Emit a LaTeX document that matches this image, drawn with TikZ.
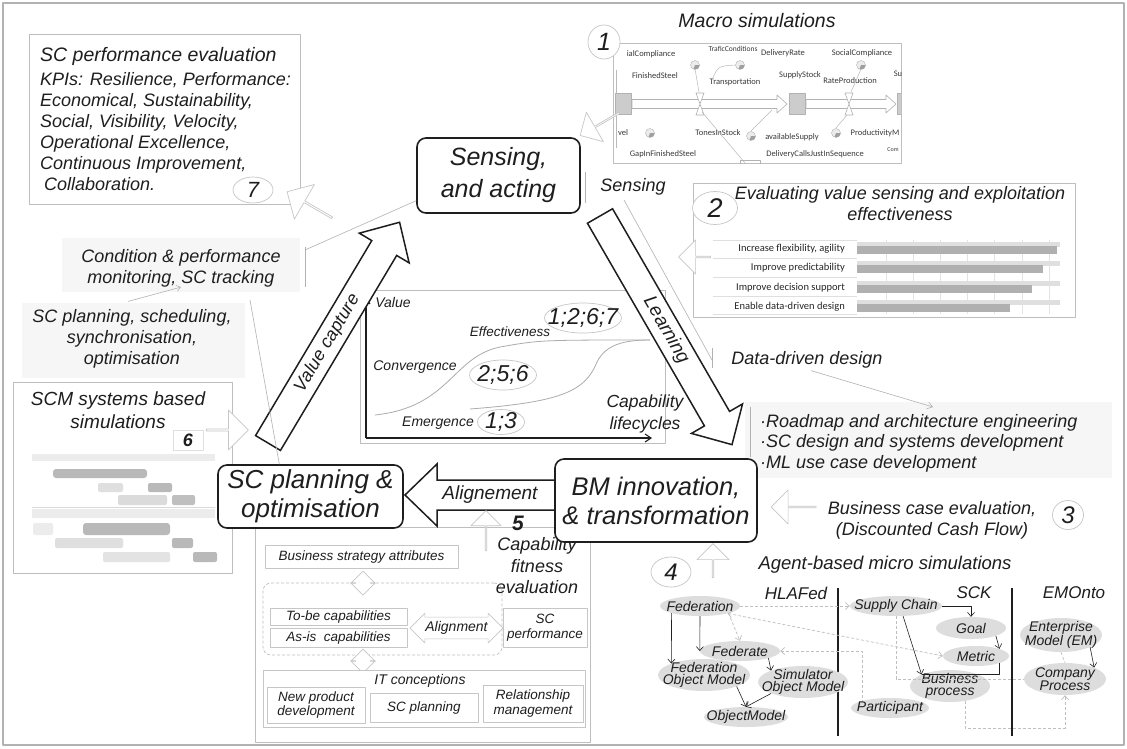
\documentclass[tikz,border=0pt]{standalone}
\usepackage{fontspec}
\setmainfont{Liberation Sans}
\newfontfamily\chartfont{Carlito}
\usetikzlibrary{shapes.geometric,shapes.arrows,arrows.meta,calc}
\definecolor{ink}{HTML}{1E1E1E}
\definecolor{lite}{HTML}{BEBEBE}
\definecolor{haze}{HTML}{F6F6F6}
\begin{document}
\begin{tikzpicture}[x=1pt,y=-1pt,line join=round,
  tx/.style 2 args={text=ink, inner sep=0pt, align=center, font=\itshape\fontsize{#1}{#2}\selectfont},
  hub/.style={draw=ink, line width=1.6pt, rounded corners=9pt, fill=white},
  flow/.style={draw=ink, line width=1.5pt, fill=white, line join=miter},
  panel/.style={draw=lite, line width=0.8pt, inner sep=0pt},
  cell/.style={draw=gray!45, line width=0.6pt, fill=white, inner sep=0pt, text=ink, align=center,
    font=\itshape\fontsize{13.5}{14.5}\selectfont},
  tag/.style={ellipse, draw=gray!45, line width=0.7pt, fill=white, inner xsep=-14pt, inner ysep=-6pt, text=ink},
  ghost/.style={single arrow, draw=gray!45, line width=0.7pt, fill=white, inner sep=0pt, single arrow head extend=7pt},
  ghost2/.style={double arrow, draw=gray!45, line width=0.7pt, fill=white, inner xsep=0pt, inner ysep=7pt, double arrow head extend=5pt},
  wire/.style={draw=gray!60, line width=0.6pt},
  axis/.style={draw=ink, line width=1.1pt, -{Straight Barb[length=6pt,width=8pt]}},
  curve/.style={draw=gray!65, line width=0.8pt},
  simt/.style={text=gray!45!black, inner sep=0pt, font=\chartfont\fontsize{8.5}{9}\selectfont},
  bart/.style={text=gray!30!black, inner sep=0pt, anchor=east, font=\chartfont\fontsize{10.5}{11}\selectfont},
  pipe/.style={draw=gray!60, line width=0.6pt, fill=white},
  ont/.style={ellipse, fill=gray!27, inner xsep=-30pt, inner ysep=-14pt, text=ink, align=center,
    font=\itshape\fontsize{14}{12.5}\selectfont},
  oline/.style={draw=gray!25!black, line width=0.6pt},
  oarr/.style={oline, -{Straight Barb[length=4pt,width=7pt]}},
  odash/.style={draw=gray!50, line width=0.7pt, densely dashed}
]
\useasboundingbox (0,0) rectangle (1127,748);
\fill[white] (0,0) rectangle (1127,748);
\draw[gray!60, line width=1.5pt] (3,3) rectangle (1124,745);

% soft backgrounds behind the free-standing texts
\fill[haze] (62,238) rectangle (300,292);
\fill[haze] (22,303) rectangle (245,378);
\fill[haze] (745,402) rectangle (1112,478);

% ---------- module 7: performance evaluation ----------
\node[panel, minimum width=271, minimum height=170] (kpibox) at (164.5,119) {};
\node[tx={19.5}{22}, anchor=west] (kpititle) at (40,56) {SC performance evaluation};
\node[tx={18}{21}, align=left, anchor=north west] (kpis) at (40,72)
  {KPIs: Resilience, Performance:\\Economical, Sustainability,\\Social, Visibility, Velocity,\\Operational Excellence,\\Continuous Improvement,\\\hspace{4pt}Collaboration.};
\node[tag, minimum width=40, minimum height=26, font=\itshape\fontsize{22}{22}\selectfont] (n7) at (253,190) {7};
\node[ghost, minimum height=52, minimum width=40, rotate=150] (g7) at (310,205) {};

% ---------- free texts on the left ----------
\node[tx={18}{21}] (cond) at (181,268) {Condition \& performance\\monitoring, SC tracking};
\node[tx={18}{21}] (plan) at (132,339) {SC planning, scheduling,\\synchronisation,\\optimisation};
\coordinate (cb) at (305,250);
\coordinate (pb) at (250,300);
\draw[wire] (305,247) -- (305,287);
\draw[wire, -{Straight Barb[length=4pt,width=6pt]}] (plan.north) ++(-4,-8) -- (cond.south);

% ---------- module 6: SCM based simulations ----------
\node[panel, minimum width=219, minimum height=191] (scmbox) at (122.5,477.5) {};
\node[tx={19}{23.5}] (scmt) at (118,410) {SCM systems based\\simulations};
\node[draw=gray!25, fill=white, minimum width=30, minimum height=20, inner sep=0pt, text=ink,
  font=\bfseries\itshape\fontsize{18}{18}\selectfont] (n6) at (188,440) {6};
\node[ghost, minimum height=42, minimum width=40] (g6) at (227,430) {};
% gantt chart
\fill[gray!15] (32,454) rectangle (215,461);
\fill[gray!55, rounded corners=3pt] (53,469) rectangle (147,478);
\fill[gray!25, rounded corners=2pt] (98,483) rectangle (123,492);
\fill[gray!55, rounded corners=2pt] (148,483) rectangle (172,492);
\fill[gray!28, rounded corners=2pt] (118,495) rectangle (167,505);
\fill[gray!50, rounded corners=2pt] (172,495) rectangle (195,505);
\draw[gray!30] (32,507) -- (215,507);
\fill[gray!15] (32,509) rectangle (215,518);
\fill[gray!15, rounded corners=2pt] (33,523) rectangle (53,535);
\fill[gray!55, rounded corners=3pt] (83,523) rectangle (170,535);
\fill[gray!25, rounded corners=2pt] (55,538) rectangle (123,548);
\fill[gray!55, rounded corners=2pt] (172,538) rectangle (193,548);
\fill[gray!22, rounded corners=2pt] (103,552) rectangle (170,562);
\fill[gray!55, rounded corners=2pt] (193,552) rectangle (217,562);

% ---------- module 1: macro simulations ----------
\node[tx={19.5}{20}] (macrot) at (757,21) {Macro simulations};
\node[panel, minimum width=288, minimum height=120] (macrobox) at (757,103) {};
\begin{scope}
  \clip (613,43) rectangle (901,163);
  \node[simt] (s1) at (651,54) {ialCompliance};
  \node[simt, font=\chartfont\fontsize{7.5}{8}\selectfont] (s2) at (733,49) {TraficConditions};
  \node[simt] (s3) at (783,53) {DeliveryRate};
  \node[simt] (s4) at (862,53) {SocialCompliance};
  \node[simt] (s5) at (655,76) {FinishedSteel};
  \node[simt] (s6) at (735,82) {Transportation};
  \node[simt] (s7) at (800,75) {SupplyStock};
  \node[simt] (s8) at (850,81) {RateProduction};
  \node[simt] (s9) at (898,74) {Su};
  \node[simt] (s10) at (623,133) {vel};
  \node[simt] (s11) at (718,133) {TonesInStock};
  \node[simt] (s12) at (792,137) {availableSupply};
  \node[simt] (s13) at (875,133) {ProductivityM};
  \node[simt] (s14) at (663,154) {GapInFinishedSteel};
  \node[simt] (s15) at (815,154) {DeliveryCallsJustInSequence};
  \node[simt, font=\chartfont\fontsize{6}{6}\selectfont] (s16) at (893,150) {Com};
  % stocks
  \node[draw=gray!60, fill=gray!40, minimum width=16, minimum height=21, inner sep=0pt] (st1) at (623,104) {};
  \node[draw=gray!60, fill=gray!40, minimum width=16, minimum height=21, inner sep=0pt] (st2) at (797,104) {};
  \node[draw=gray!60, fill=gray!40, minimum width=10, minimum height=21, inner sep=0pt] (st3) at (902,104) {};
  % flows
  \draw[pipe] (632,99.5) -- (777,99.5) -- (777,95) -- (787,104) -- (777,113) -- (777,108.5) -- (632,108.5) -- cycle;
  \draw[pipe] (806,99.5) -- (886,99.5) -- (886,95) -- (896,104) -- (886,113) -- (886,108.5) -- (806,108.5) -- cycle;
  \draw[pipe] (696,93) -- (704,93) -- (696,115) -- (704,115) -- cycle;
  \draw[pipe] (845,93) -- (853,93) -- (845,115) -- (853,115) -- cycle;
  % links
  \draw[gray!55, line width=0.5pt] (695,69) -- (699,92);
  \draw[gray!55, line width=0.5pt] (736,65) .. controls (718,66) .. (712,80);
  \draw[gray!55, line width=0.5pt] (861,69) -- (851,92);
  \draw[gray!55, line width=0.5pt] (751,131) -- (772,110);
  \draw[gray!55, line width=0.5pt] (836,128) -- (847,115);
  \draw[gray!55, line width=0.5pt] (702,112) -- (745,163);
  \draw[gray!55, line width=0.5pt] (616,70) -- (616,93);
  \draw[gray!55, line width=0.5pt] (616,116) -- (616,148);
  % converters
  \foreach \cx/\cy in {695/65, 740/65, 861/65, 650/133, 751/136, 836/133}{
    \filldraw[fill=gray!15, draw=gray!60, line width=0.4pt] (\cx,\cy) circle (4.5);
    \fill[gray!75] (\cx,\cy) -- ++(4.5,0) arc[start angle=0, end angle=110, radius=4.5] -- cycle;
  }
  \draw[gray!60] (740,160) rectangle (760,165);
\end{scope}
\node[tag, minimum width=32, minimum height=34, font=\itshape\fontsize{25}{25}\selectfont] (n1) at (604,42) {1};
\node[ghost, minimum height=45, minimum width=34, rotate=210] (g1) at (600,124) {};

% ---------- module 2: evaluation chart ----------
\node[panel, minimum width=382, minimum height=134] (evalbox) at (884,250) {};
\node[tx={18}{21}] (evalt) at (900,204) {Evaluating value sensing and exploitation\\effectiveness};
\node[tag, minimum width=45, minimum height=33, font=\itshape\fontsize{27}{27}\selectfont] (n2) at (715,208) {2};
\node[ghost, minimum height=32, minimum width=34, rotate=180] (g2) at (695,257) {};
\foreach \yy in {240,258,277,296,314} \draw[gray!25] (713,\yy) -- (857,\yy);
\foreach \xx in {886,913,940,967,994,1022,1049} \draw[gray!22] (\xx,240) -- (\xx,314);
\foreach \yy/\ee in {249/1057, 268/1043, 288/1032, 307/1010}{
  \fill[gray!25] (857,\yy-7) rectangle (1060,\yy-2);
  \fill[gray!62] (857,\yy-3) rectangle (\ee,\yy+5);
}
\node[bart] (b1) at (845,249) {Increase flexibility, agility};
\node[bart] (b2) at (845,268) {Improve predictability};
\node[bart] (b3) at (845,288) {Improve decision support};
\node[bart] (b4) at (845,307) {Enable data-driven design};

% ---------- value lifecycle chart ----------
\node[panel, minimum width=305, minimum height=153] (valbox) at (512.5,366.5) {};
\coordinate (orig) at (366,438);
\coordinate (vtop) at (366,297);
\coordinate (hend) at (652,438);
\draw[axis] (orig) -- (vtop);
\draw[axis] (orig) -- (hend);
\draw[curve] (375,415) .. controls (450,407) and (452,357) .. (500,347) .. controls (540,340) .. (650,340);
\draw[curve] (470,409) .. controls (560,402) and (585,392) .. (597,362) .. controls (606,344) and (625,340) .. (650,340);
\node[tx={14}{14}] (lval) at (393,302) {Value};
\node[tx={13.5}{14}] (leff) at (510,332) {Effectiveness};
\node[tx={14}{14}] (lconv) at (415,367) {Convergence};
\node[tx={14}{14}] (lemer) at (438,423) {Emergence};
\node[tx={17.5}{22}] (lcap) at (645,414) {Capability\\lifecycles};
\node[tag, minimum width=77, minimum height=30, inner xsep=-30pt, font=\itshape\fontsize{23}{23}\selectfont] (v1) at (583,318) {1;2;6;7};
\node[tag, minimum width=67, minimum height=30, inner xsep=-22pt, font=\itshape\fontsize{23}{23}\selectfont] (v2) at (503,375) {2;5;6};
\node[tag, minimum width=47, minimum height=25, inner xsep=-12pt, font=\itshape\fontsize{23}{23}\selectfont] (v3) at (501,422) {1;3};

% ---------- right side texts ----------
\node[tx={18}{20}] (senselbl) at (633,187) {Sensing};
\node[tx={18}{20}] (dd) at (807,360) {Data-driven design};
\coordinate (sb) at (624,200);
\coordinate (ddb) at (712,360);
\coordinate (ddend) at (933,407);
\draw[wire] (585,172) -- (585,203);
\draw[wire] (sb) -- (ddb);
\draw[wire] (712,348) -- (712,368);
\draw[wire, -{Straight Barb[length=5pt,width=7pt]}] (dd.south) ++(4,2) -- (ddend);
\draw[wire] (750,407) -- (750,457);
\node[tx={18}{20.5}, align=left, anchor=west] (bullets) at (760,443)
  {·Roadmap and architecture engineering\\·SC design and systems development\\·ML use case development};
\node[tx={18}{21}] (bce) at (932,520) {Business case evaluation,\\(Discounted Cash Flow)};
\node[tag, minimum width=31, minimum height=29, font=\itshape\fontsize{24}{24}\selectfont] (n3) at (1068,515) {3};
\node[ghost, minimum height=45, minimum width=34, rotate=180] (g3) at (794,507) {};

% ---------- module 4: agent-based micro simulations ----------
\node[tx={18.5}{20}] (abm) at (885,565) {Agent-based micro simulations};
\node[tag, minimum width=40, minimum height=30, font=\itshape\fontsize{24}{24}\selectfont] (n4) at (671,572) {4};
\node[ghost, minimum height=34, minimum width=32, rotate=90] (g4) at (713,561) {};
\node[tx={17}{18}] (hla) at (796,593) {HLAFed};
\node[tx={17}{18}] (sck) at (974,593) {SCK};
\node[tx={17}{18}] (emo) at (1074,593) {EMOnto};
\coordinate (d1t) at (838,588);
\coordinate (d1b) at (838,736);
\coordinate (d2t) at (1012,588);
\coordinate (d2b) at (1012,736);
\draw[ink, line width=1.3pt] (d1t) -- (d1b);
\draw[ink, line width=1.3pt] (d2t) -- (d2b);

\node[ont, minimum width=80, minimum height=20] (fed) at (700,606) {Federation};
\node[ont, minimum width=92, minimum height=20] (sch) at (896,606) {Supply Chain};
\node[ont, minimum width=70, minimum height=22] (goal) at (971,628) {Goal};
\node[ont, minimum width=80, minimum height=20] (fedt) at (740,651) {Federate};
\node[ont, minimum width=66, minimum height=20] (metric) at (976,656) {Metric};
\node[ont, minimum width=82, minimum height=34] (em) at (1061,635) {Enterprise\\Model (EM)};
\node[ont, minimum width=92, minimum height=32] (fom) at (704,675) {Federation\\Object Model};
\node[ont, minimum width=90, minimum height=32] (som) at (803,682) {Simulator\\Object Model};
\node[ont, minimum width=80, minimum height=32] (bp) at (950,686) {Business\\process};
\node[ont, minimum width=82, minimum height=32] (cp) at (1065,679) {Company\\Process};
\node[ont, minimum width=84, minimum height=20] (om) at (746,717) {ObjectModel};
\node[ont, minimum width=78, minimum height=20] (part) at (890,708) {Participant};

\draw[oarr] (fed.south) -- (fedt.west);
\draw[oarr] (fed.south west) -- (fom.north west);
\draw[odash, -{Straight Barb[length=4pt,width=7pt]}] (fed.south east) -- (fedt.north);
\draw[oarr] (fedt.south east) -- (som.north west);
\draw[oarr] (fom.south east) -- (om.north);
\draw[oarr] (som.south west) -- (om.north);
\draw[odash, -{Straight Barb[length=4pt,width=7pt]}] (fed.east) -- (sch.west);
\draw[odash, {Straight Barb[length=4pt,width=7pt]}-{Straight Barb[length=4pt,width=7pt]}] (fed.-15) -- (metric.west);
\draw[odash, {Straight Barb[length=4pt,width=7pt]}-] (fedt.east) -| (part.north west);
\draw[oarr] (sch.east) -| (goal.north);
\draw[oarr] (goal.south east) -- (metric.north east);
\draw[oarr] (sch.-55) -- (bp.north west);
\draw[oline] (metric.south east) |- (bp.north west);
\draw[odash] (sch.south) |- (cp.west);
\draw[odash, -{Straight Barb[length=4pt,width=7pt]}] (bp.-45) -- ($(bp.-45)+(0,27)$) -| (cp.south);
\draw[oarr] (em.south east) -- (cp.north east);
\draw[odash] (em.south) -- (cp.north);

% ---------- sensing hub and its connector ----------
\node[hub, tx={25}{32}, minimum width=163, minimum height=75] (sense) at (498.5,175.5) {Sensing,\\and acting};
\draw[wire] (cb) -- (sense.197);

% ---------- big flow arrows ----------
\begin{scope}[shift={(268,443)}, rotate=59.2]
  \draw[flow] (0,-14.5) -- (227,-14.5) -- (227,-29) -- (257,0) -- (227,29) -- (227,14.5) -- (0,14.5) -- cycle;
  \node[tx={18}{20}, rotate=59.2] (vcap) at (116,0) {Value capture};
\end{scope}
\begin{scope}[shift={(600,216)}, rotate=-60]
  \draw[flow] (0,-14.5) -- (234,-14.5) -- (234,-29.5) -- (264,0) -- (234,29.5) -- (234,14.5) -- (0,14.5) -- cycle;
  \node[tx={19}{20}, rotate=-60] (learn) at (132,0) {Learning};
\end{scope}

% ---------- module 5: capability fitness evaluation ----------
\node[panel, minimum width=335, minimum height=215] (fitbox) at (422.5,634.5) {};
\begin{scope}[shift={(590,495)}, rotate=180]
  \draw[flow] (0,-15) -- (153,-15) -- (153,-31) -- (185,0) -- (153,31) -- (153,15) -- (0,15) -- cycle;
\end{scope}
\node[tx={19}{20}] (alig) at (490,495) {Alignement};
\node[ghost, minimum height=40, minimum width=30, rotate=90] (g5) at (486,531) {};
\node[tx={21}{21}, font=\bfseries\itshape\fontsize{21}{21}\selectfont] (n5) at (518,523) {5};
\node[tx={18}{21.5}] (cfe) at (537,566) {Capability\\fitness\\evaluation};
\node[cell, minimum width=193, minimum height=23] (bsa) at (361.5,556.5) {Business strategy attributes};
\node[draw=gray!50, line width=0.7pt, densely dashed, rounded corners=8pt, minimum width=239, minimum height=72, inner sep=0pt] (capzone) at (382.5,619) {};
\node[ghost2, minimum height=24, rotate=90] (gz1) at (363,583) {};
\node[cell, minimum width=137, minimum height=17] (tobe) at (338.5,616.5) {To-be capabilities};
\node[cell, minimum width=137, minimum height=19] (asis) at (338.5,637.5) {As-is\ \ capabilities};
\node[ghost2, minimum height=93, inner ysep=4pt, double arrow head extend=4pt, text=ink,
  font=\itshape\fontsize{14}{14}\selectfont] (alg) at (456.5,628) {Alignment};
\node[cell, minimum width=84, minimum height=39] (scperf) at (545,627.5) {SC\\performance};
\node[ghost2, minimum height=24, rotate=90] (gz2) at (363,661) {};
\node[cell, minimum width=322, minimum height=57] (itc) at (424,698.5) {};
\node[tx={14}{14}] (itct) at (420,681) {IT conceptions};
\node[cell, minimum width=98, minimum height=36] (npd) at (316,705) {New product\\development};
\node[cell, minimum width=108, minimum height=29] (scpl) at (424,707.5) {SC planning};
\node[cell, minimum width=100, minimum height=37] (rel) at (533,703.5) {Relationship\\management};

% ---------- hubs ----------
\node[hub, tx={26}{29}, minimum width=185, minimum height=63] (scp) at (310.5,496.5) {SC planning \&\\optimisation};
\node[hub, tx={25.5}{29}, minimum width=202, minimum height=83] (bm) at (656,500.5) {BM innovation,\\\& transformation};
\draw[wire] (pb) -- (scp.134);
\end{tikzpicture}
\end{document}
